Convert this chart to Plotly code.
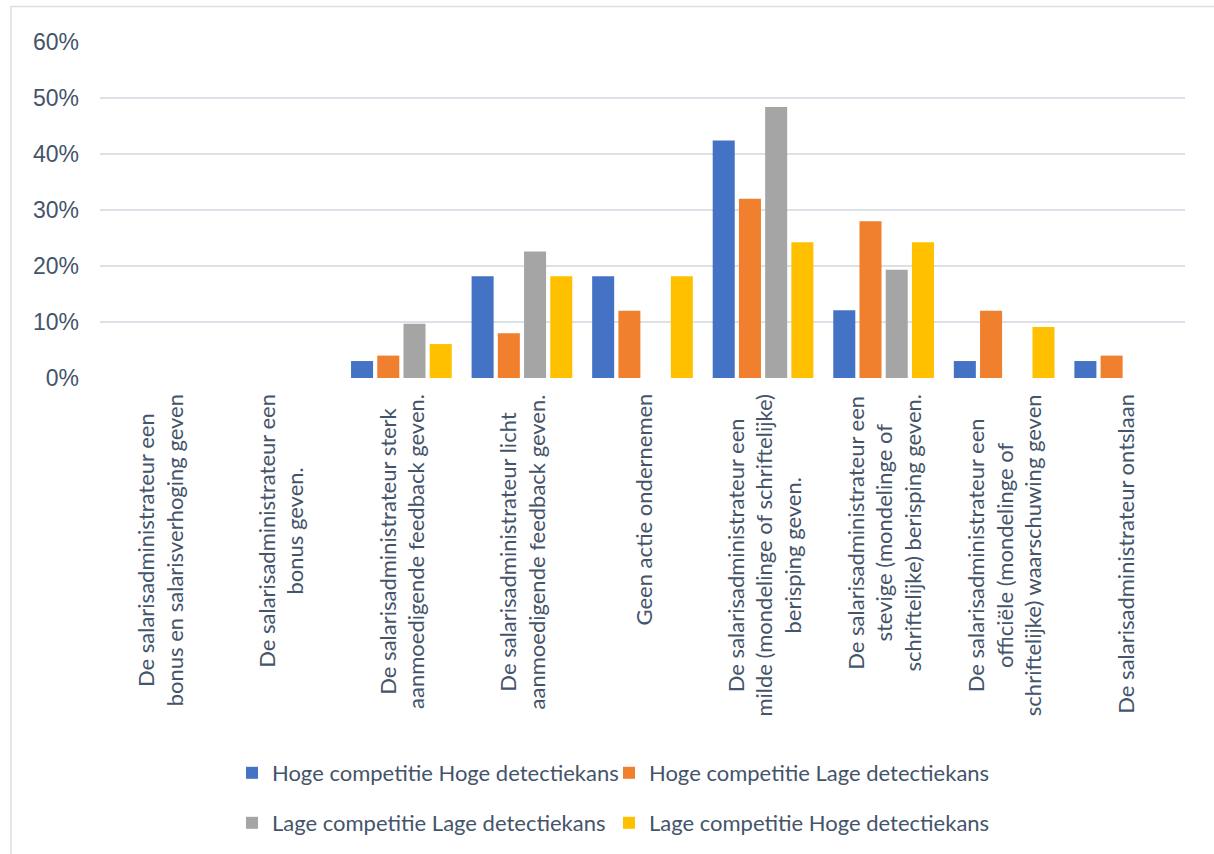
import plotly.graph_objects as go

# Response categories (line breaks as shown under the axis)
categories = [
    "De salarisadministrateur een<br>bonus en salarisverhoging geven",
    "De salarisadministrateur een<br>bonus geven.",
    "De salarisadministrateur sterk<br>aanmoedigende feedback geven.",
    "De salarisadministrateur licht<br>aanmoedigende feedback geven.",
    "Geen actie ondernemen",
    "De salarisadministrateur een<br>milde (mondelinge of schriftelijke)<br>berisping geven.",
    "De salarisadministrateur een<br>stevige (mondelinge of<br>schriftelijke) berisping geven.",
    "De salarisadministrateur een<br>officiële (mondelinge of<br>schriftelijke) waarschuwing geven",
    "De salarisadministrateur ontslaan",
]

series_names = [
    "Hoge competitie Hoge detectiekans",
    "Hoge competitie Lage detectiekans",
    "Lage competitie Lage detectiekans",
    "Lage competitie Hoge detectiekans",
]

# Share of respondents per category (%)
hoge_comp_hoge_det = [0, 0, 3.03, 18.18, 18.18, 42.42, 12.12, 3.03, 3.03]
hoge_comp_lage_det = [0, 0, 4.0, 8.0, 12.0, 32.0, 28.0, 12.0, 4.0]
lage_comp_lage_det = [0, 0, 9.68, 22.58, 0, 48.39, 19.35, 0, 0]
lage_comp_hoge_det = [0, 0, 6.06, 18.18, 18.18, 24.24, 24.24, 9.09, 0]

y_ticks = [0, 10, 20, 30, 40, 50, 60]
y_tick_labels = ["0%", "10%", "20%", "30%", "40%", "50%", "60%"]

values = [hoge_comp_hoge_det, hoge_comp_lage_det, lage_comp_lage_det, lage_comp_hoge_det]
colors = ["#4472C4", "#F07F2E", "#A5A5A5", "#FFC000"]
legend_ids = ["legend", "legend2", "legend3", "legend4"]

TEXT = "#44546A"
LABEL_FONT = "Lato"

W, H = 1214, 854
ML, MR, MT, MB = 100, 29, 42, 476
plot_w = W - ML - MR
plot_h = H - MT - MB

fig = go.Figure()
for name, vals, col, lg in zip(series_names, values, colors, legend_ids):
    fig.add_trace(go.Bar(
        x=categories, y=vals, name=name, legend=lg,
        marker=dict(color=col, line=dict(width=0)),
    ))

# Rotated category labels below the axis, lines centred on each other
for cat in categories:
    fig.add_annotation(
        x=cat, xref="x", y=0, yref="paper", yshift=-14,
        text=cat, textangle=-90, showarrow=False,
        xanchor="center", yanchor="top", align="center",
        font=dict(family=LABEL_FONT, size=22, color=TEXT),
    )

# Chart-area frame
def px_to_paper_x(px):
    return (px - ML) / plot_w

def px_to_paper_y(py):
    return (H - MB - py) / plot_h

fig.add_shape(
    type="rect", xref="paper", yref="paper",
    x0=px_to_paper_x(11), x1=px_to_paper_x(W + 20),
    y0=px_to_paper_y(H + 20), y1=px_to_paper_y(6.5),
    line=dict(color="#D9DEE7", width=1.5), fillcolor="rgba(0,0,0,0)", layer="below",
)

# Legend laid out as a 2x2 grid: one single-entry legend per cell
legend_common = dict(
    orientation="h", xref="container", yref="container",
    xanchor="left", yanchor="middle",
    font=dict(family=LABEL_FONT, size=22, color=TEXT),
    bgcolor="rgba(0,0,0,0)",
)
col_x = [232 / W, 609 / W]
row_y = [(H - 773) / H, (H - 823) / H]

fig.update_layout(
    width=W, height=H,
    margin=dict(l=ML, r=MR, t=MT, b=MB, autoexpand=False),
    paper_bgcolor="white", plot_bgcolor="white",
    barmode="group", bargap=0.13, bargroupgap=0.16,
    showlegend=True,
    legend=dict(x=col_x[0], y=row_y[0], **legend_common),
    legend2=dict(x=col_x[1], y=row_y[0], **legend_common),
    legend3=dict(x=col_x[0], y=row_y[1], **legend_common),
    legend4=dict(x=col_x[1], y=row_y[1], **legend_common),
    xaxis=dict(
        showticklabels=False, showgrid=False, zeroline=False,
        showline=False, ticks="",
    ),
    yaxis=dict(
        range=[0, 60], tickvals=y_ticks, ticktext=y_tick_labels,
        showgrid=True, gridcolor="#DCE1E8", gridwidth=1.5,
        zeroline=False, showline=False, ticks="",
        ticklabelstandoff=20,
        tickfont=dict(family="Liberation Sans", size=23, color=TEXT),
    ),
)

fig.write_html("out.html")
